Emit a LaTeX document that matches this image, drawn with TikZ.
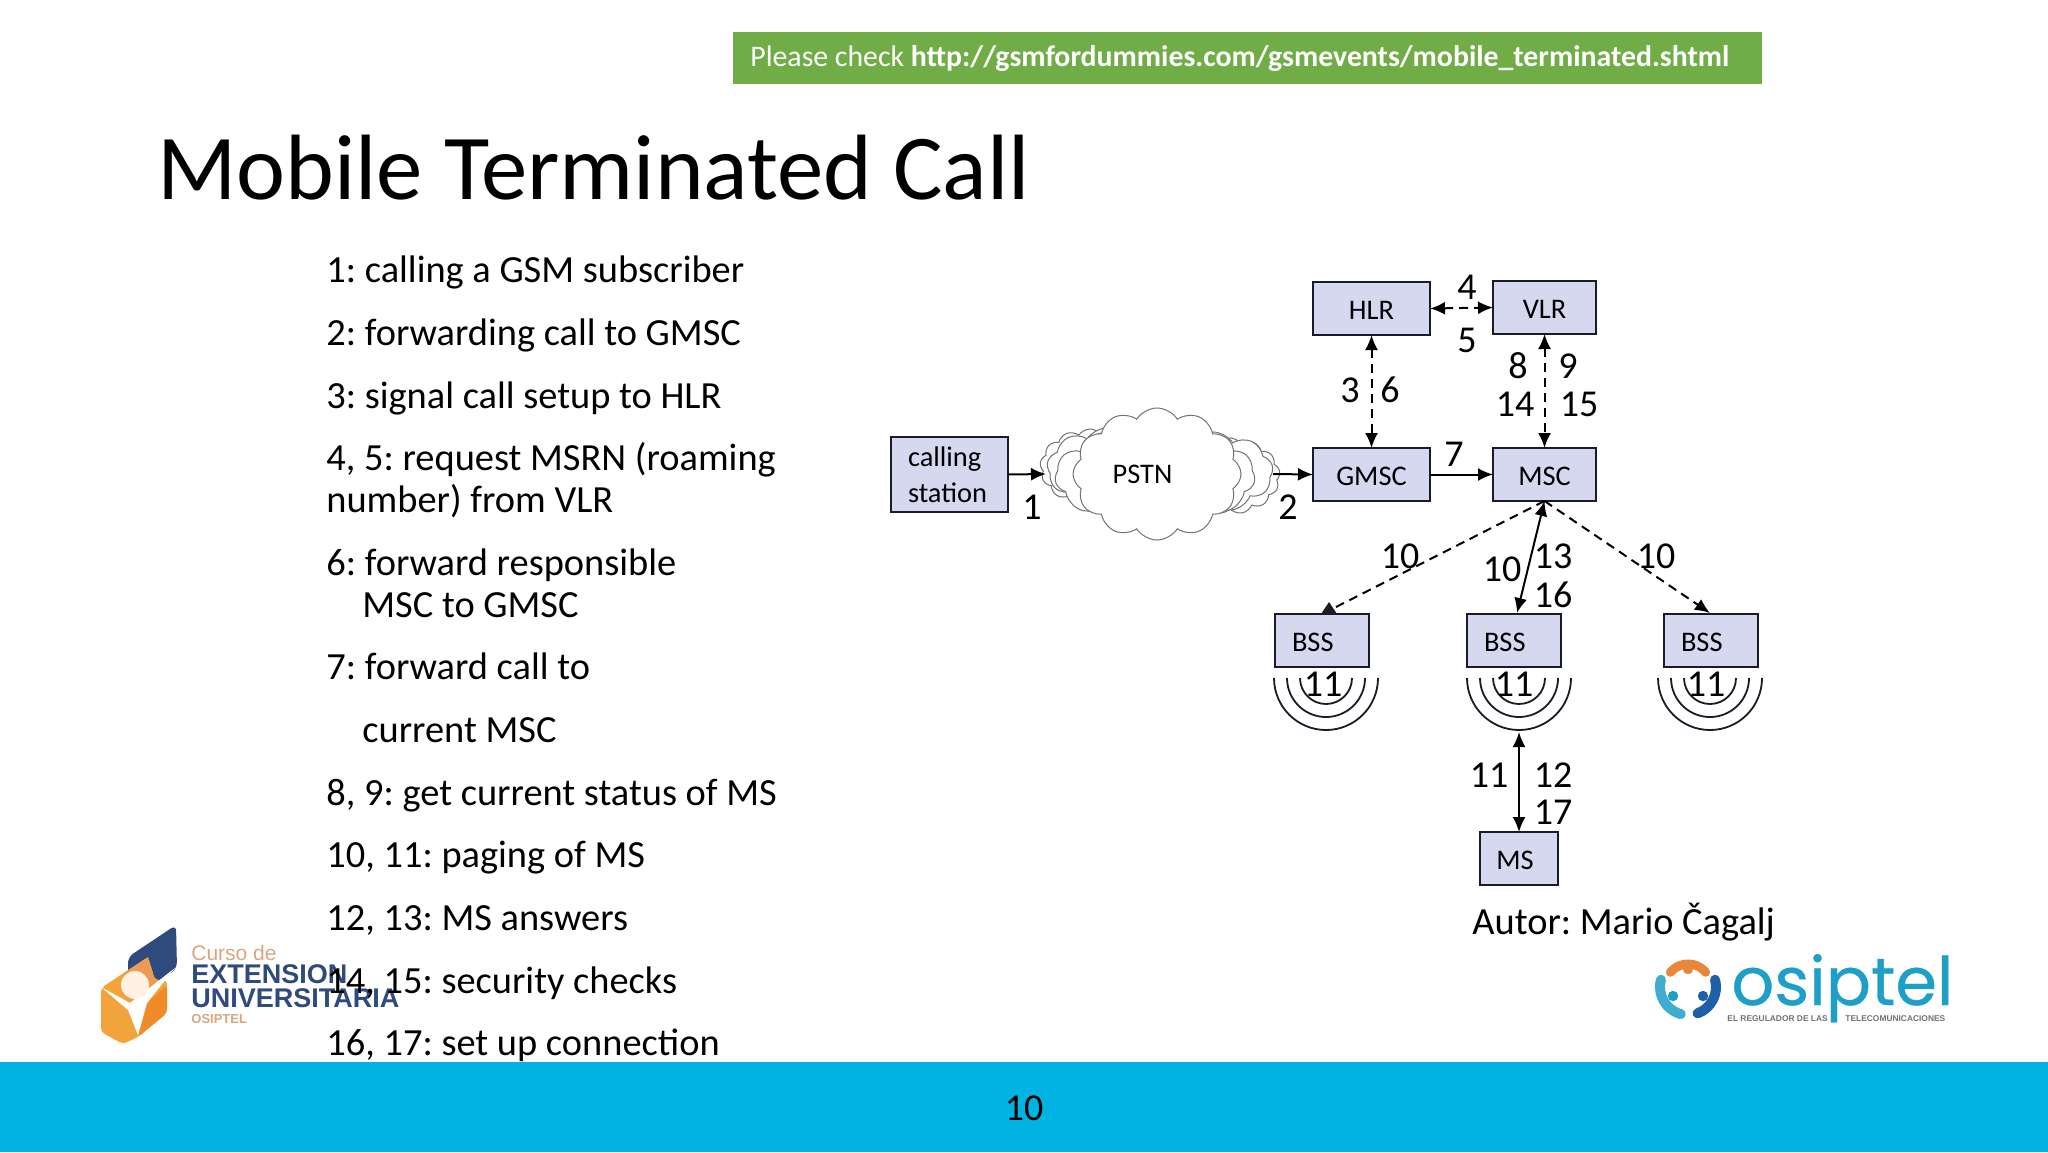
\documentclass[tikz,border=0pt]{standalone}
\usepackage{fontspec}
\setmainfont{Carlito}
\newfontfamily\logofont{Liberation Sans}
\newfontfamily\osifont[FakeBold=0.5]{Poppins}
\usetikzlibrary{arrows.meta,shapes.symbols}
\definecolor{boxfill}{HTML}{D6D8F0}
\definecolor{boxline}{HTML}{1A1A28}
\definecolor{bargreen}{HTML}{70AD47}
\definecolor{barblue}{HTML}{00B3E3}
\definecolor{logonavy}{HTML}{2F4A7C}
\definecolor{logotan}{HTML}{D9A583}
\definecolor{osiblue}{HTML}{1E9FC8}
\definecolor{logoorange}{HTML}{F2A33A}
\definecolor{logodeep}{HTML}{F08C28}
\definecolor{logopeach}{HTML}{EE9A55}
\definecolor{osiorange}{HTML}{E8873A}
\definecolor{osinavy}{HTML}{1F5FA8}
\frenchspacing
\tikzset{
  x=0.5pt,y=-0.5pt,
  boxn/.style={draw=boxline,fill=boxfill,line width=0.9pt,font=\fontsize{14.2}{17}\selectfont,
     text=black,inner ysep=0pt,outer sep=0pt,minimum height=26.5pt},
  centerbox/.style={boxn,align=center,inner xsep=0pt,text height=10.5pt,text depth=0pt},
  leftbox/.style={boxn,align=left,inner xsep=8.5pt},
  lbl/.style={font=\fontsize{19}{22}\selectfont,inner sep=0pt,text=black},
  listline/.style={font=\fontsize{19.2}{22}\selectfont,anchor=base west,inner sep=0pt,text=black},
  dashline/.style={line width=1pt,dash pattern=on 4.5pt off 3pt},
  conn/.style={line width=1pt,-{Latex[length=7.5pt,width=6.5pt]}},
  conn2/.style={line width=1pt,{Latex[length=7.5pt,width=6.5pt]}-{Latex[length=7.5pt,width=6.5pt]}},
  dconn2/.style={conn2,dash pattern=on 4.5pt off 3pt},
  dconn/.style={conn,dash pattern=on 4.5pt off 3pt},
  puff/.style={cloud,draw=black!55,fill=white,line width=0.5pt,cloud puff arc=115,inner sep=0pt},
  wave/.style={line width=0.9pt,draw=boxline},
  logotxt/.style={anchor=base west,inner sep=0pt},
}
\begin{document}
\begin{tikzpicture}
\useasboundingbox (0,0) rectangle (2048,1152);
\fill[white] (0,0) rectangle (2048,1152);
% banner, footer
\node[fill=bargreen,anchor=north west,minimum width=514.5pt,minimum height=26pt,inner sep=0pt] (banner) at (733,32) {};
\node[anchor=west,inner sep=0pt,text=white,font=\fontsize{14.9}{17}\selectfont] (bannertxt) at (750,59) {Please check \textbf{http://gsmfordummies.com/gsmevents/mobile\_terminated.shtml}};
\fill[barblue] (0,1062) rectangle (2048,1152);
\node[font=\fontsize{19}{22}\selectfont,inner sep=0pt] (pageno) at (1024,1108) {10};
% title
\node[anchor=base west,inner sep=0pt,font=\fontsize{46.4}{50}\selectfont] (title) at (157,199) {Mobile Terminated Call};
% left logo
\fill[logonavy,rounded corners=3pt] (128,957) -- (176,925) -- (177,968) -- (160,983) -- (150,990) -- (128,985) -- cycle;
\fill[logoorange,rounded corners=2pt] (101,988) -- (148,957) -- (155,980) -- (167,980) -- (167,1013) -- (138,1037) -- (123,1044) -- (101,1032) -- cycle;
\fill[logodeep,rounded corners=2pt] (138,1037) -- (167,1013) -- (167,985) -- (147,1003) -- cycle;
\fill[logopeach] (124,973) -- (148,957) -- (155,980) -- (150,1000) -- (128,1000) -- cycle;
\fill[white] (101,987) -- (130,1003) -- (175,968) -- (147,1003) -- (138,1035) -- (128,1010) -- cycle;
\fill[orange!10!white] (135,985) circle[radius=7pt];
\node[logotxt,text=logotan,font=\logofont\fontsize{10.5}{12}\selectfont] (l1) at (191,960) {Curso de};
\node[logotxt,text=logonavy,font=\logofont\bfseries\fontsize{13.5}{15}\selectfont] (l2) at (191,983) {EXTENSION};
\node[logotxt,text=logonavy,font=\logofont\bfseries\fontsize{13.5}{15}\selectfont] (l3) at (191,1007) {UNIVERSITARIA};
\node[logotxt,text=logotan,font=\logofont\bfseries\fontsize{6.5}{8}\selectfont] (l4) at (191,1023) {OSIPTEL};
% right logo
\draw[osiorange,line width=4.5pt,line cap=round] (1688,987) ++(40:11.5pt) arc[start angle=40,end angle=140,radius=11.5pt];
\draw[osiblue!85!white,line width=5pt,line cap=round] (1688,987) ++(165:14pt) arc[start angle=165,end angle=255,radius=14pt];
\draw[osinavy,line width=5pt,line cap=round] (1688,987) ++(-70:14pt) arc[start angle=-70,end angle=15,radius=14pt];
\fill[osiorange] (1688,969) circle[radius=2.6pt];
\fill[osiblue] (1673,996) circle[radius=2.6pt];
\fill[osinavy] (1703,996) circle[radius=2.6pt];
\node[logotxt,text=osiblue,font=\osifont\fontsize{33.5}{36}\selectfont] (osi) at (1731,1005) {osiptel};
\node[logotxt,text=black!55,font=\logofont\bfseries\fontsize{4.2}{5}\selectfont] (osi2) at (1727,1021) {EL REGULADOR DE LAS};
\node[logotxt,text=black!55,font=\logofont\bfseries\fontsize{4.2}{5}\selectfont] (osi3) at (1845,1021) {TELECOMUNICACIONES};
% list
\foreach \yy/\xx/\tt in {282/326/{1: calling a GSM subscriber},345/326/{2: forwarding call to GMSC},408/326/{3: signal call setup to HLR},470/326/{4, 5: request MSRN (roaming},512/326/{number) from VLR},575/326/{6: forward responsible},617/362/{MSC to GMSC},679/326/{7: forward call to},742/362/{current MSC},805/326/{8, 9: get current status of MS},867/326/{10, 11: paging of MS},930/326/{12, 13: MS answers},993/326/{14, 15: security checks},1055/326/{16, 17: set up connection}}
  \node[listline] at (\xx,\yy) {\tt};
% cloud
\node[puff,cloud puffs=13,aspect=1.3,minimum width=50pt,minimum height=38pt] (cl0) at (1090,467) {};
\node[puff,cloud puffs=13,aspect=1.3,minimum width=50pt,minimum height=38pt] (cl4) at (1230,476) {};
\node[puff,cloud puffs=9,aspect=1.6,minimum width=60pt,minimum height=40pt] (cl1) at (1107,468) {};
\node[puff,cloud puffs=9,aspect=1.6,minimum width=60pt,minimum height=40pt] (cl2) at (1213,472) {};
\node[puff,cloud puffs=11,aspect=1.8,minimum width=100pt,minimum height=51pt] (cl3) at (1155,476) {};
\node[puff,cloud puffs=12,aspect=1.3,minimum width=84pt,minimum height=66pt,font=\fontsize{14.2}{17}\selectfont] (pstn) at (1157,474) {PSTN\kern 14.5pt};
\coordinate (cloudw) at (1046,474);
\coordinate (cloude) at (1273,474);
% boxes
\node[leftbox,anchor=north west,minimum width=58.5pt,minimum height=37.5pt,text width=41.5pt,font=\fontsize{14.2}{18}\selectfont] (cs) at (891,437) {\raisebox{-0.6pt}{calling}\\\raisebox{-0.6pt}{station}};
\node[centerbox,anchor=north west,minimum width=58.5pt] (hlr) at (1313,282) {HLR};
\node[centerbox,anchor=north west,minimum width=51.5pt] (vlr) at (1493,281) {VLR};
\node[centerbox,anchor=north west,minimum width=58.5pt] (gmsc) at (1313,448) {GMSC};
\node[centerbox,anchor=north west,minimum width=51.5pt] (msc) at (1493,448) {MSC};
\node[leftbox,anchor=north west,minimum width=47pt,text width=30pt,text height=10.5pt,text depth=0pt] (bss1) at (1275,614) {BSS};
\node[leftbox,anchor=north west,minimum width=47pt,text width=30pt,text height=10.5pt,text depth=0pt] (bss2) at (1467,614) {BSS};
\node[leftbox,anchor=north west,minimum width=47pt,text width=30pt,text height=10.5pt,text depth=0pt] (bss3) at (1664,614) {BSS};
\node[centerbox,anchor=north west,minimum width=39pt] (ms) at (1480,832) {MS\kern 4pt};
% radio waves
\foreach \cx in {1326,1519,1710}{
  \foreach \r/\rr in {52/26pt,39/19.5pt,26/13pt}
    \draw[wave] (\cx-\r,678) arc[start angle=180,end angle=360,radius=\rr];
}
\coordinate (wavebot) at (1519,732);
% connectors
\draw[conn] (cs.east) -- (cloudw);
\draw[conn] (cloude) -- (gmsc.west);
\draw[dconn2] (hlr.south) -- (gmsc.north);
\draw[dconn2] (hlr.east) -- (vlr.west);
\draw[dconn2] (vlr.south) -- (msc.north);
\draw[conn] (gmsc.east) -- (msc.west);
\coordinate (b1top) at (1336,607);
\coordinate (b2top) at (1517,613);
\coordinate (b3top) at (1710,613);
\draw[dashline] (msc.south) -- (b1top);
\fill[boxline] (1321,614) -- (1329,602) -- (1337,614) -- cycle;
\draw[conn2] (msc.south) -- (b2top);
\draw[dconn] (msc.south) -- (b3top);
\draw[conn2] (wavebot) -- (ms.north -| wavebot);
% labels
\foreach \px/\py/\tt in {1032/507/1,1288/507/2,1350/390/3,1390/390/6,1467/287/4,1467/340/5,1518/366/8,1568/366/9,1515/404/14,1579/404/15,1454/454/7,1400/556/10,1502/569/10,1553/556/13,1553/595/16,1656/556/10,1323/684/11,1514/684/11,1706/684/11,1489/775/11,1553/775/12,1553/812/17}
  \node[lbl] at (\px,\py) {\tt};
\node[anchor=base west,inner sep=0pt,font=\fontsize{19.2}{22}\selectfont] (autor) at (1472,934) {Autor: Mario Čagalj};
\end{tikzpicture}
\end{document}
